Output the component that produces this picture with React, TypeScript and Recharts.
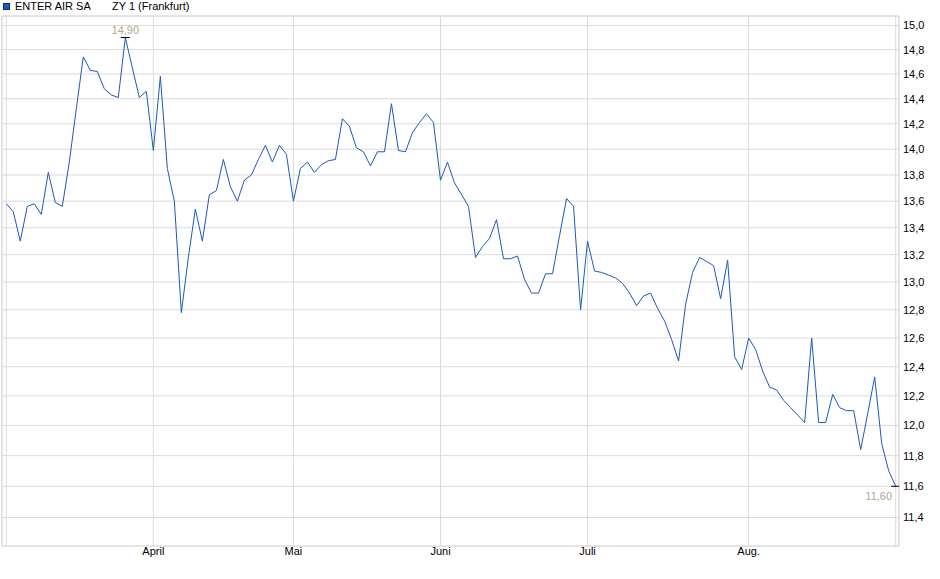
import React from "react";
import {
  LineChart,
  Line,
  XAxis,
  YAxis,
  CartesianGrid,
  ReferenceArea,
} from "recharts";

// daily closing prices, Frankfurt, early March to end of August
const prices = [
  13.58, 13.52, 13.3, 13.56, 13.58, 13.5, 13.82, 13.59, 13.56, 13.9,
  14.32, 14.74, 14.63, 14.62, 14.48, 14.43, 14.41, 14.9, 14.65, 14.41,
  14.46, 13.99, 14.58, 13.85, 13.6, 12.78, 13.18, 13.54, 13.3, 13.65,
  13.68, 13.92, 13.71, 13.6, 13.76, 13.8, 13.92, 14.03, 13.9, 14.03,
  13.96, 13.6, 13.85, 13.9, 13.82, 13.88, 13.91, 13.92, 14.24, 14.18,
  14.01, 13.98, 13.87, 13.98, 13.98, 14.36, 13.99, 13.98, 14.13, 14.21,
  14.28, 14.21, 13.76, 13.9, 13.74, 13.65, 13.56, 13.18, 13.26, 13.32,
  13.46, 13.17, 13.17, 13.19, 13.02, 12.92, 12.92, 13.06, 13.06, 13.34,
  13.62, 13.56, 12.8, 13.3, 13.08, 13.07, 13.05, 13.03, 12.99, 12.92,
  12.83, 12.9, 12.92, 12.81, 12.72, 12.59, 12.44, 12.84, 13.07, 13.18,
  13.15, 13.12, 12.88, 13.16, 12.47, 12.38, 12.6, 12.52, 12.37, 12.26,
  12.24, 12.17, 12.12, 12.07, 12.02, 12.6, 12.02, 12.02, 12.21, 12.12,
  12.1, 12.1, 11.84, 12.08, 12.33, 11.88, 11.7, 11.6,
];

// first trading day of each month (index into prices), plus both ends
const monthTicks = [0, 21, 41, 62, 83, 106, 127];
const monthLabels = ["", "April", "Mai", "Juni", "Juli", "Aug.", ""];

const priceTicks = [
  11.4, 11.6, 11.8, 12.0, 12.2, 12.4, 12.6, 12.8, 13.0, 13.2, 13.4, 13.6,
  13.8, 14.0, 14.2, 14.4, 14.6, 14.8, 15.0,
];

const FONT = '"Liberation Sans", Arial, sans-serif';
const GRID = "#dadada";
const LINE = "#1c58c0";

const data = prices.map((p, i) => ({ i, p }));

const maxIdx = prices.indexOf(Math.max(...prices));
const lastIdx = prices.length - 1;

const de = (v: number, d: number) => v.toFixed(d).replace(".", ",");

// marks the high and the last close with a short black bar and a label
function Marker(props: any) {
  const { cx, cy, index } = props;
  if (index !== maxIdx && index !== lastIdx) return <g key={index} />;
  const isLast = index === lastIdx;
  return (
    <g key={index}>
      <line x1={cx - 4.5} x2={cx + 4.5} y1={cy} y2={cy} stroke="#000" strokeWidth={1} />
      <text
        x={isLast ? cx - 17 : cx}
        y={isLast ? cy + 14 : cy - 4}
        textAnchor="middle"
        fontSize={11}
        fontFamily={FONT}
        fill="#b4a690"
      >
        {de(prices[index], 2)}
      </text>
    </g>
  );
}

export default function App() {
  return (
    <div
      style={{
        position: "fixed",
        left: 0,
        top: 0,
        width: 940,
        height: 579,
        background: "#fff",
        fontFamily: FONT,
      }}
    >
      <div
        style={{
          position: "absolute",
          left: 3,
          top: 3,
          width: 5,
          height: 5,
          background: "#1c58c0",
          border: "1px solid #0d2f6e",
        }}
      />
      <div style={{ position: "absolute", left: 15, top: 0, fontSize: 11, color: "#000" }}>
        ENTER AIR SA
      </div>
      <div style={{ position: "absolute", left: 112, top: 0, fontSize: 11, color: "#000" }}>
        ZY 1 (Frankfurt)
      </div>

      <LineChart
        width={940}
        height={579}
        data={data}
        margin={{ top: 16, right: 0, bottom: 0, left: 2 }}
      >
        <CartesianGrid stroke={GRID} strokeWidth={1} />
        <ReferenceArea
          x1={-0.61}
          x2={127.47}
          y1={11.22}
          y2={15.08}
          fill="none"
          stroke={GRID}
          strokeWidth={1}
          ifOverflow="visible"
        />
        <XAxis
          dataKey="i"
          type="number"
          domain={[-0.61, 127.47]}
          allowDataOverflow
          ticks={monthTicks}
          tickFormatter={(v: number) => monthLabels[monthTicks.indexOf(v)] ?? ""}
          height={33}
          axisLine={false}
          tickLine={false}
          tickSize={0}
          tickMargin={1}
          interval={0}
          tick={{ fontSize: 11, fill: "#000", fontFamily: FONT }}
        />
        <YAxis
          orientation="right"
          scale="log"
          domain={[11.22, 15.08]}
          allowDataOverflow
          ticks={priceTicks}
          tickFormatter={(v: number) => de(v, 1)}
          width={41}
          axisLine={false}
          tickLine={false}
          tickSize={0}
          tickMargin={4}
          interval={0}
          tick={{ fontSize: 11, fill: "#000", fontFamily: FONT, textAnchor: "start" }}
        />
        <Line
          type="linear"
          dataKey="p"
          stroke={LINE}
          strokeWidth={1}
          dot={Marker}
          activeDot={false}
          isAnimationActive={false}
        />
      </LineChart>
    </div>
  );
}
